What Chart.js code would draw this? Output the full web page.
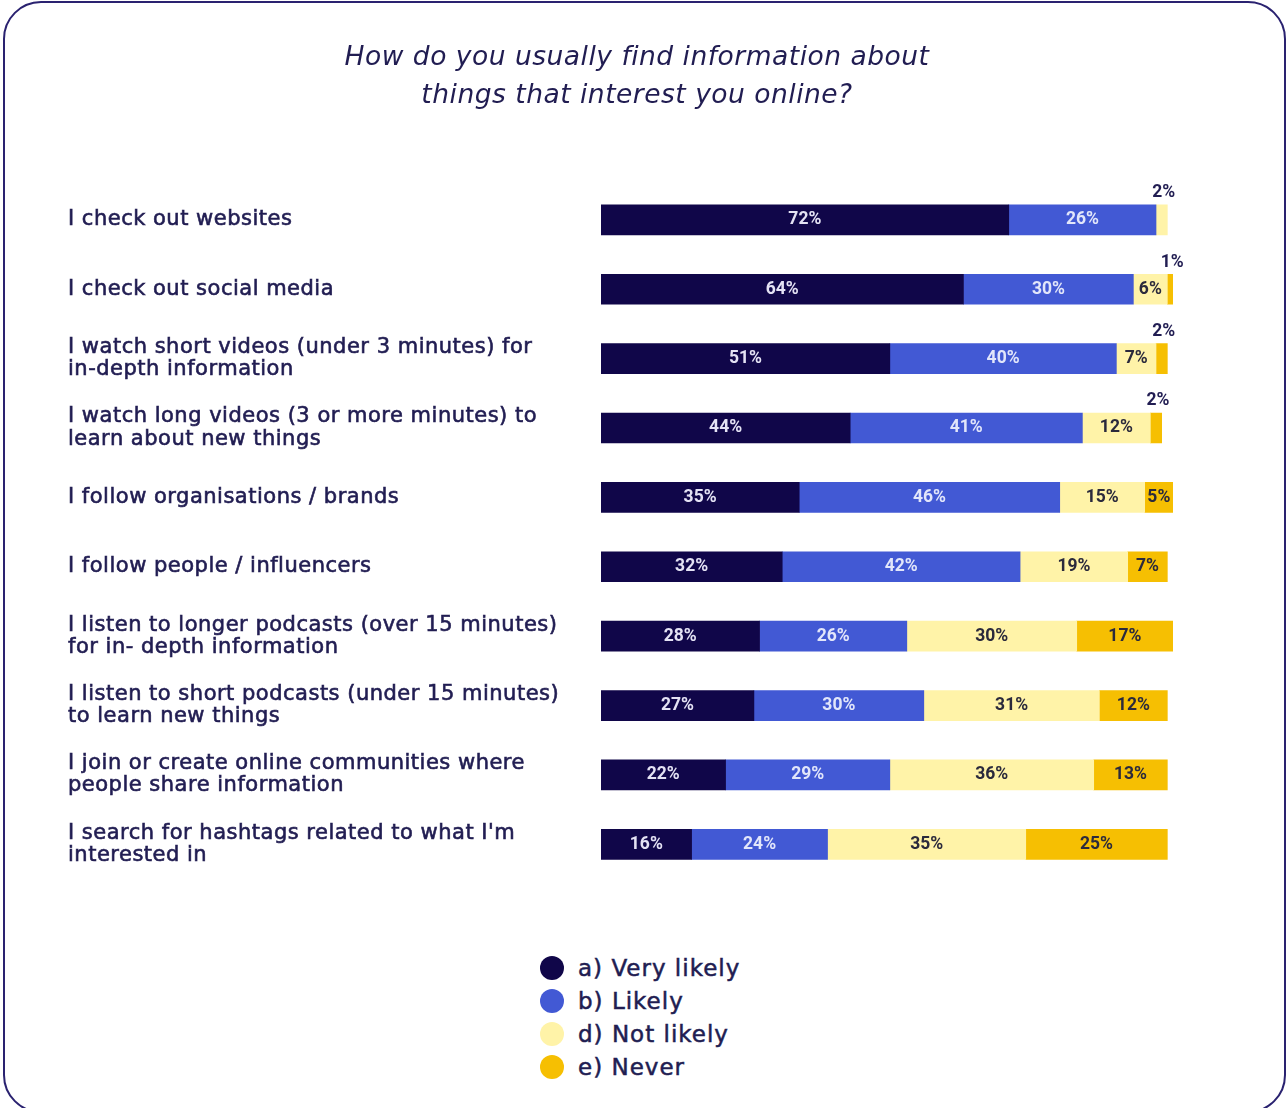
<!DOCTYPE html>
<html>
<head>
<meta charset="utf-8">
<script src="https://cdn.jsdelivr.net/npm/chart.js@4.4.1/dist/chart.umd.min.js"></script>
<style>
  html, body { margin: 0; padding: 0; background: #fff; }
  body { width: 1287px; height: 1108px; position: relative; overflow: hidden; }
  .frame {
    position: absolute; left: 3px; top: 1px; width: 1279px; height: 1108px;
    border: 2px solid #2a2270; border-radius: 38px;
  }
  .chart-box { position: absolute; left: 0; top: 0; width: 1287px; height: 900px; }
  #legend {
    position: absolute; left: 540px; top: 951px;
    font-family: "DejaVu Sans", sans-serif; font-size: 23px; letter-spacing: 1px; color: #211d52;
    -webkit-text-stroke: 0.5px #211d52;
  }
  .legend-row { height: 33px; display: flex; align-items: center; }
  .legend-dot { width: 24px; height: 24px; border-radius: 50%; margin-right: 14px; }
</style>
</head>
<body>
<div class="frame"></div>
<div class="chart-box"><canvas id="infoChart"></canvas></div>
<div id="legend"></div>
<script>
  const questions = [
    ["I check out websites"],
    ["I check out social media"],
    ["I watch short videos (under 3 minutes) for", "in-depth information"],
    ["I watch long videos (3 or more minutes) to", "learn about new things"],
    ["I follow organisations / brands"],
    ["I follow people / influencers"],
    ["I listen to longer podcasts (over 15 minutes)", "for in- depth information"],
    ["I listen to short podcasts (under 15 minutes)", "to learn new things"],
    ["I join or create online communities where", "people share information"],
    ["I search for hashtags related to what I'm", "interested in"]
  ];
  const seriesNames = ["a) Very likely", "b) Likely", "d) Not likely", "e) Never"];
  const veryLikely = [72, 64, 51, 44, 35, 32, 28, 27, 22, 16];
  const likely     = [26, 30, 40, 41, 46, 42, 26, 30, 29, 24];
  const notLikely  = [2, 6, 7, 12, 15, 19, 30, 31, 36, 35];
  const never      = [null, 1, 2, 2, 5, 7, 17, 12, 13, 25];

  const barColors  = ["#100649", "#4259d4", "#fff3a8", "#f6bf02"];
  const textColors = ["#e4e2f4", "#e2e6fa", "#2b2a3c", "#2b2a3c"];
  const navy = "#211d52";

  // slightly looser tracking for title and question labels
  const tracking = {
    id: "tracking",
    beforeLayout(chart) { chart.ctx.letterSpacing = "0.5px"; },
    beforeDraw(chart) { chart.ctx.letterSpacing = "0.5px"; }
  };

  // percentage text in each segment; tiny segments get it above the bar end
  const valueLabels = {
    id: "valueLabels",
    afterDatasetsDraw(chart) {
      const ctx = chart.ctx;
      ctx.save();
      ctx.letterSpacing = "0px";
      ctx.font = "bold 17.5px Roboto";
      ctx.textAlign = "center";
      ctx.textBaseline = "middle";
      chart.data.datasets.forEach((ds, i) => {
        chart.getDatasetMeta(i).data.forEach((bar, j) => {
          const v = ds.data[j];
          if (!v) return;
          const p = bar.getProps(["x", "y", "base", "height"], true);
          const cx = (p.x + p.base) / 2;
          if (v <= 2) {
            ctx.fillStyle = navy;
            ctx.fillText(v + "%", cx + 2, p.y - p.height / 2 - 12);
          } else {
            ctx.fillStyle = textColors[i];
            ctx.fillText(v + "%", cx, p.y);
          }
        });
      });
      ctx.restore();
    }
  };

  const series = [veryLikely, likely, notLikely, never];
  const chart = new Chart(document.getElementById("infoChart"), {
    type: "bar",
    data: {
      labels: questions,
      datasets: series.map((vals, i) => ({
        label: seriesNames[i],
        data: vals,
        backgroundColor: barColors[i],
        barThickness: 30,
        borderWidth: 0
      }))
    },
    options: {
      indexAxis: "y",
      responsive: true,
      maintainAspectRatio: false,
      animation: false,
      layout: { padding: { left: 68, right: 81, top: 0, bottom: 21 } },
      plugins: {
        legend: { display: false },
        tooltip: { enabled: false },
        title: {
          display: true,
          text: ["How do you usually find information about", "things that interest you online?"],
          color: navy,
          font: { family: "DejaVu Sans", size: 26.5, style: "italic", weight: "normal", lineHeight: 1.4 },
          padding: { top: 40, bottom: 71 }
        }
      },
      scales: {
        x: { stacked: true, min: 0, max: 101, display: false },
        y: {
          stacked: true,
          grid: { display: false },
          border: { display: false },
          ticks: {
            crossAlign: "far",
            color: navy,
            textStrokeColor: navy,
            textStrokeWidth: 0.6,
            font: { family: "DejaVu Sans", size: 21, weight: "normal", lineHeight: 1.05 }
          },
          afterFit: s => { s.width = 533; }
        },
        // empty right-hand gutter so the title sits where it should
        gutter: {
          type: "category",
          position: "right",
          grid: { display: false },
          border: { display: false },
          ticks: { display: false },
          afterFit: s => { s.width = 33; }
        }
      }
    },
    plugins: [tracking, valueLabels]
  });

  // Legend as a vertical list under the chart
  let legendHTML = "";
  chart.data.datasets.forEach(ds => {
    legendHTML += `<div class="legend-row"><span class="legend-dot" style="background:${ds.backgroundColor}"></span>${ds.label}</div>`;
  });
  document.getElementById("legend").innerHTML = legendHTML;
</script>
</body>
</html>
